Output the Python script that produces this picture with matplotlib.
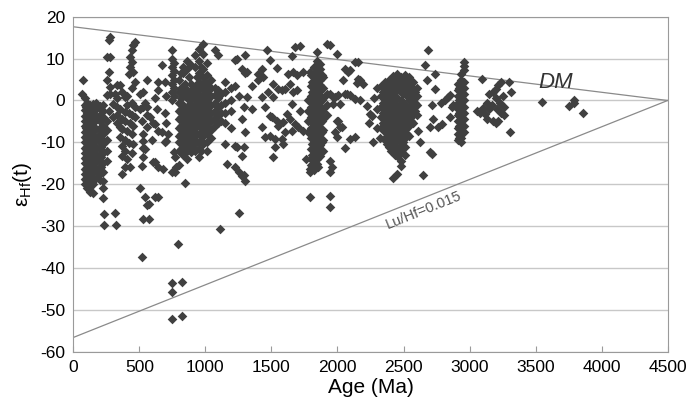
import matplotlib
matplotlib.use("Agg")
import matplotlib.pyplot as plt

plt.rcParams['font.family'] = ['Liberation Sans', 'DejaVu Sans']
plt.rcParams['mathtext.fontset'] = 'custom'
plt.rcParams['mathtext.rm'] = 'Liberation Sans'
plt.rcParams['axes.unicode_minus'] = False

# zircon data: (age in Ma, [eHf(t) values at that age])
grp_0_300 = [
    (63, [1.6]), (76, [4.8]),
    (85, [0.5, -1, -2.3, -3.6, -5, -6.2, -7.5, -8.8, -10, -11.3, -12.6, -13.8, -15, -16.3, -17.6, -18.8, -20]),
    (95, [-1.5, -4, -6.5, -9, -11.5, -14, -16.5, -19]),
    (105, [-0.5, -1.8, -3.1, -4.4, -5.7, -7, -8.3, -9.5, -10.8, -12, -13.3, -14.6, -15.8, -17.1, -18.4, -19.7, -21]),
    (117, [-1, -3.5, -6, -8.5, -11, -13.5, -16, -18.5, -21]),
    (128, [-1.2, -2.6, -4, -5.3, -6.6, -7.9, -9.1, -10.4, -11.7, -13, -14.2, -15.5, -16.8, -18, -19.3, -20.5, -21.8]),
    (140, [-2, -4.5, -7, -9.5, -12, -14.5, -17, -19.5]),
    (150, [-0.8, -3, -5.5, -7.2, -8.6, -10, -11.5, -13, -14.4, -15.8, -17.2, -18.6, -20, -22.2]),
    (161, [-1.5, -4, -6.5, -9, -11.5, -14, -16.5]),
    (172, [-0.5, -2, -4.5, -6.8, -9, -11, -12.8, -14.6, -16.5, -18.4]),
    (200, [-1.3, -3.5, -5, -6.5, -8, -9.8, -11.5, -13, -14.5, -16, -17.5, -19]),
    (211, [-2, -4.5, -7, -9, -11, -13.5, -16]),
    (222, [-1, -2.5, -4, -6, -8, -10.5, -12.5, -15, -17, -19.2, -21, -23.3]),
    (232, [-27.1, -29.8]),
    (252, [10.4, 4.8, 1.2, -5, -7, -9.5, -12, -14.5]),
    (268, [14.4, 6.8, -2.5]),
    (280, [15.2, 10.4, 3.2, 1.6]),
    (300, [-0.8, -4]),
    (316, [1.6, -26.9]), (321, [-29.8]),
]

grp_300_700 = [
    (330, [3.6, 0.5, -1.5, -3.5, -5.5]),
    (353, [3.6, -2, -6.4, -8.8]),
    (370, [2, -4.5, -6.8, -10.8, -13.2, -17.6]),
    (391, [0.8, -2.8, -5, -9.5, -12, -16]),
    (410, [1, -1, -7.2, -14]),
    (420, [6.4, -3, -10.2]),
    (429, [10.4, 8, -5.5, -16]),
    (442, [12, 9.2, 3, -0.5, -3.5, -8, -12.5]),
    (454, [13.2, 6.8, -6.2, -10.5]),
    (467, [14, 4.5, -1.5, -4]),
    (505, [1.5, -2, -21]),
    (518, [-5, -15.6, -37.4]),
    (530, [2, -1.6, -8, -9.6, -11.3, -13.6, -28.3]),
    (545, [-0.5, -11.6, -23]),
    (555, [5, -1.6, -3.5, -6.4, -25]),
    (570, [-24.8, -28.3]),
    (581, [-4]), (593, [-9.5]),
    (606, [-5.5, -14.6]),
    (618, [0.5, -5.6, -14.8, -23]),
    (631, [-2]),
    (643, [2.6, 4.5, -7.2, -16, -23.1]),
    (669, [8.4, -7.6]),
    (680, [-16.4]),
    (694, [4.5, -3, -10]),
    (705, [1, -5.5, -9.6]),
]

grp_700_1300 = [
    (719, [-8]),
    (745, [-17]),
    (750, [12, 10, 8, 6, 4, 2, 0, -43.5, -45.8, -52.3]),
    (760, [9, 7, 5, 3, 1, -12.4]),
    (770, [-13.6, -17.2]),
    (780, [-15.8]),
    (795, [-34.2]),
    (800, [5, 2, -0.5, -2.5, -4.5, -6.5, -8.5, -10, -12, -15.5]),
    (815, [6.5, 3, 0.5, -2, -4, -6, -8, -10, -11.5]),
    (820, [-43.3, -51.5]),
    (830, [8, 6.5, 3.5, 1.5, -1, -3, -5, -7, -9, -11, -13]),
    (845, [4, 1, -2, -4.5, -6.5, -8.5, -10.5, -12.5]),
    (846, [-19.8]),
    (860, [9.5, 7.5, 2.5, 0.5, -1.5, -3.5, -5.5, -7.5, -9.5, -11.5, -14]),
    (875, [5.5, 1, -1, -3, -5, -7, -9, -11]),
    (890, [8.5, 4, 1.8, 0, -2, -4, -6, -8, -10, -12.2]),
    (905, [3, 1, -1.5, -3.5, -5.5, -7.5, -9.5, -11]),
    (920, [10.8, 8, 3.5, 2, 0.5, -1, -2.8, -4.6, -6.4, -8.2, -10, -12]),
    (935, [5.5, 2.5, 0, -2, -4, -6, -8, -10]),
    (950, [12.4, 9.5, 6.5, 4.5, 2.8, 1, -0.8, -2.6, -4.4, -6.2, -8, -9.8, -11.6, -13.5]),
    (965, [8, 3.5, 0.5, -1.5, -3.5, -5.5, -7.5, -9.5, -12]),
    (984, [13.6, 11, 7.5, 5.5, 3.5, 1.5, -0.5, -2.5, -4.5, -6.5, -8.5, -10.5]),
    (995, [4.5, 2.5, 0.5, -1.5, -3.5, -5.5, -7.5]),
    (1010, [9, 6, 4, 2, 0, -2, -4, -6, -8, -10, -12]),
    (1025, [3, 1, -1, -3, -5, -7]),
    (1040, [5, 3, 1, -1, -3, -5, -7, -9]),
    (1075, [12, 3, 1.2, -0.6, -2.4, -4.2, -6]),
    (1098, [10.8, 2.5, 0.5, -1.5, -3.5, -5.5]),
    (1110, [-30.7]),
    (1120, [1.5, -1, -3, -5]),
    (1150, [4.5, 2, -0.5, -3, -5.5, -10.4]),
    (1161, [-15.1]),
    (1190, [3, 0, -2.5, -6.5]),
    (1224, [9.6, 3.5, -10.8, -15.8]),
    (1237, [10, -11.2]),
    (1257, [1, -17, -26.9]),
    (1275, [7.6, -4.5, -13.2, -18]),
    (1290, [-1.5, -11.2, -17.9]),
]

grp_1300_1750 = [
    (1300, [10.8, 6.6, -7.5, -19.2]),
    (1313, [6.8, 0.8]),
    (1350, [3.5, -2]),
    (1400, [6.4, 4.8]),
    (1426, [7.6, 0.8, -6.4]),
    (1438, [5.6]),
    (1451, [-1.6, -8.8]),
    (1464, [12]),
    (1476, [2]),
    (1489, [9.6, -3.6, -8.4]),
    (1502, [-4]),
    (1514, [4, 0.8, -13.6]),
    (1527, [-9.2, -11.2]),
    (1540, [7.8, -4.8]),
    (1552, [2.8, -6]),
    (1578, [2.4, -9.2]),
    (1590, [-5.2, -10.4]),
    (1602, [2.8, -7.6]),
    (1615, [-3.2]),
    (1627, [6.4]),
    (1640, [4, -4.4]),
    (1653, [10.6, -0.8, -7.2]),
    (1665, [6.8, 2]),
    (1678, [12.8, -5.6]),
    (1691, [6, 2.4]),
    (1704, [-6.4]),
    (1716, [13, -2.4]),
    (1741, [6.8, -7.2]),
]

grp_1750_2250 = [
    (1760, [-14]),
    (1775, [0, -2.5, -5, -7.5]),
    (1792, [6.8, -16.3, -17.2, -23.1]),
    (1800, [6, 3.5, 1, -1.5, -4, -6.5, -9, -11.5, -14, -15.5]),
    (1810, [4.5, 2, -0.5, -3, -5.5, -8, -10.5, -13]),
    (1820, [8, 5.5, 4.2, 2.9, 1.6, 0.3, -1, -2.3, -3.6, -4.9, -6.2, -7.5, -8.8, -10.1, -11.4, -12.7, -14, -15.3, -16.6]),
    (1832, [6.5, 3.5, 1, -1.5, -4, -6.5, -9, -11.5, -14]),
    (1842, [11.6, 9.5, 8.2, 6.9, 5.6, 4.3, 3, 1.7, 0.4, -0.9, -2.2, -3.5, -4.8, -6.1, -7.4, -8.7, -10, -11.3, -12.6, -13.9, -15.2]),
    (1855, [7, 4, 1.5, -1, -3.5, -6, -8.5, -11, -13.5, -16]),
    (1868, [8.8, 7.5, 6.2, 4.9, 3.6, 2.3, 1, -0.3, -1.6, -2.9, -4.2, -5.5, -6.8, -8.1, -9.4, -10.7, -12, -13.3]),
    (1880, [6, 3, 0, -2.5, -5, -7.5, -10]),
    (1893, [5.5, 3, 0.5, -2, -4.5, -7, -9.5, -12]),
    (1918, [13.6, 1.6, -1, -3.5]),
    (1943, [13.2, 1.6, -14.4, -17.1, -22.7, -25.4]),
    (1955, [-16]),
    (1968, [0.8, -0.8]),
    (1981, [0.8, -7.6]),
    (1994, [11.2, -4.8, -8.8]),
    (2006, [1.2, -5]),
    (2019, [-0.8, -6.4]),
    (2032, [-6.4]),
    (2044, [4.8]),
    (2057, [7.6, 1.6, -11.4]),
    (2069, [1.6]),
    (2082, [6.8]),
    (2095, [7.2, 1.2, -9.2]),
    (2132, [9.2, 0.4, -8.8]),
    (2146, [4.2]),
    (2158, [9.2, 5.2]),
    (2170, [4.8, 0]),
    (2195, [4]),
    (2221, [-1.4]),
    (2235, [-5.4]),
    (2246, [-3.2]),
    (2259, [-3.6]),
]

grp_2250_2850 = [
    (2270, [-10]), (2280, [0.5]), (2300, [3, -2, -6.5]), (2320, [-9]),
    (2330, [3.5, 1, -1.5, -4, -6.5]),
    (2345, [2, -0.5, -3, -5.5]),
    (2360, [4.5, 2.5, 0.5, -1.5, -3.5, -5.5, -7.5, -9.5]),
    (2375, [3.5, 1.5, -0.5, -2.5, -4.5, -6.5, -8.5, -10.5]),
    (2390, [5, 3, 1, -1, -3, -5, -7, -9, -11]),
    (2405, [4.5, 2, 0, -2, -4, -6, -8, -10, -12]),
    (2420, [5.8, 3.8, 1.8, -0.2, -2.2, -4.2, -6.2, -8.2, -10.2, -12, -18.4]),
    (2435, [5, 3, 1, -1, -3, -5, -7, -9, -11, -13]),
    (2447, [6.4, 4.5, 2.5, 0.5, -1.5, -3.5, -5.5, -7.5, -9.5, -11.5, -13.2, -17.6]),
    (2465, [4.5, 2.5, -1, -3, -5, -7, -9, -11, -13]),
    (2480, [5.5, 3.5, 0, -2, -4, -6, -8, -10, -12, -14.4, -15.7]),
    (2495, [5, 1.5, -0.5, -2.5, -4.5, -6.5, -8.5, -10]),
    (2510, [6, 4.5, 2.5, -1, -3, -5, -7, -9, -11, -13]),
    (2525, [5, 3, 1, -2, -4, -6, -8]),
    (2540, [5.5, 4, 2, 0, -2, -4, -6, -8.5]),
    (2555, [3.5, 1, -1, -3, -5]),
    (2570, [4.5, 2.5, 0.5, -1.5, -3.5, -5.5]),
    (2585, [2, -0.5, -2.5]),
    (2600, [3, 1, -1, -3.5]),
    (2612, [-7.2]), (2625, [-10]), (2650, [-17.9]),
    (2663, [8.4]), (2676, [4.8]), (2688, [12]),
    (2700, [-6.4, -12.4]),
    (2713, [-1.2, -12.8]),
    (2726, [-4.5]),
    (2738, [6.4, 2.8]),
    (2764, [-6.4]), (2780, [-0.5]), (2795, [-5.7]),
    (2814, [0]), (2839, [0.8]), (2865, [-1.6]),
]

grp_2850_4000 = [
    (2852, [1.2, -4]),
    (2877, [-1.2]),
    (2910, [4, 2.5, 1, -0.5, -2, -3.5, -5, -6.5, -8, -9.5]),
    (2922, [3, 0, -3, -6, -9]),
    (2935, [6.4, 5, 3.6, 2.2, 0.8, -0.6, -2, -3.4, -4.8, -6.2, -7.6, -9, -10]),
    (2945, [4.5, 1.5, -1.5, -4.5, -7.5]),
    (2955, [9.2, 8.2, 7.2, 4.5, 3, 1.5, 0, -1.5, -3, -4.5, -6, -7.5]),
    (3054, [-2.4]), (3080, [-3]), (3091, [5.2]), (3100, [-1.8]),
    (3117, [-3.2]), (3130, [-0.5, -4.5]), (3150, [1.5, -2]), (3170, [-1]),
    (3180, [2, -4.8]), (3200, [2.8, 0.5, -5.5]), (3210, [-2]),
    (3217, [3.6, -4.8]), (3230, [-0.5]), (3240, [4.5, -3]), (3250, [1]),
    (3260, [-1.5, -3.5]), (3300, [4.4]), (3306, [-7.6]), (3310, [2]),
    (3546, [-0.4]), (3752, [-1.4]), (3793, [0, -0.7]), (3861, [-3.1]),
]

groups = [grp_0_300, grp_300_700, grp_700_1300, grp_1300_1750,
          grp_1750_2250, grp_2250_2850, grp_2850_4000]

# evolution lines
dm_age = [0, 4500]
dm_ehf = [17.6, 0]
crust_age = [0, 4500]
crust_ehf = [-56.6, 0]

ages = []
ehfs = []
for g in groups:
    for a, vals in g:
        for v in vals:
            ages.append(a)
            ehfs.append(v)

fig = plt.figure(figsize=(6.93, 4.08), dpi=100)
ax = fig.add_axes([0.1058, 0.138, 0.8577, 0.821])

ax.set_xlim(0, 4500)
ax.set_ylim(-60, 20)
ax.set_yticks(range(-60, 21, 10))
ax.set_xticks(range(0, 4501, 500))
ax.grid(axis='y', color='#c8c8c8', lw=1)
ax.set_axisbelow(True)
for s in ax.spines.values():
    s.set_color('#9a9a9a')
ax.tick_params(axis='x', direction='in', length=4, color='#9a9a9a', labelsize=12.5, pad=6)
ax.tick_params(axis='y', length=0, labelsize=12.5, pad=6)

ax.plot(dm_age, dm_ehf, color='#8a8a8a', lw=0.9, zorder=2)
ax.plot(crust_age, crust_ehf, color='#8a8a8a', lw=0.9, zorder=2)

ax.scatter(ages, ehfs, marker='D', s=24, color='#404040', linewidths=0, zorder=3)

ax.text(3650, 4.3, 'DM', fontsize=16, style='italic', color='#333333', ha='center', va='center')
ax.text(2650, -26.3, 'Lu/Hf=0.015', fontsize=10.5, color='#555555', rotation=22,
        ha='center', va='center', rotation_mode='anchor')

ax.set_xlabel('Age (Ma)', fontsize=15, labelpad=2)
ax.set_ylabel('ε$_{\\mathregular{Hf}}$(t)', fontsize=15, labelpad=4)

fig.savefig('out.png', dpi=100)
